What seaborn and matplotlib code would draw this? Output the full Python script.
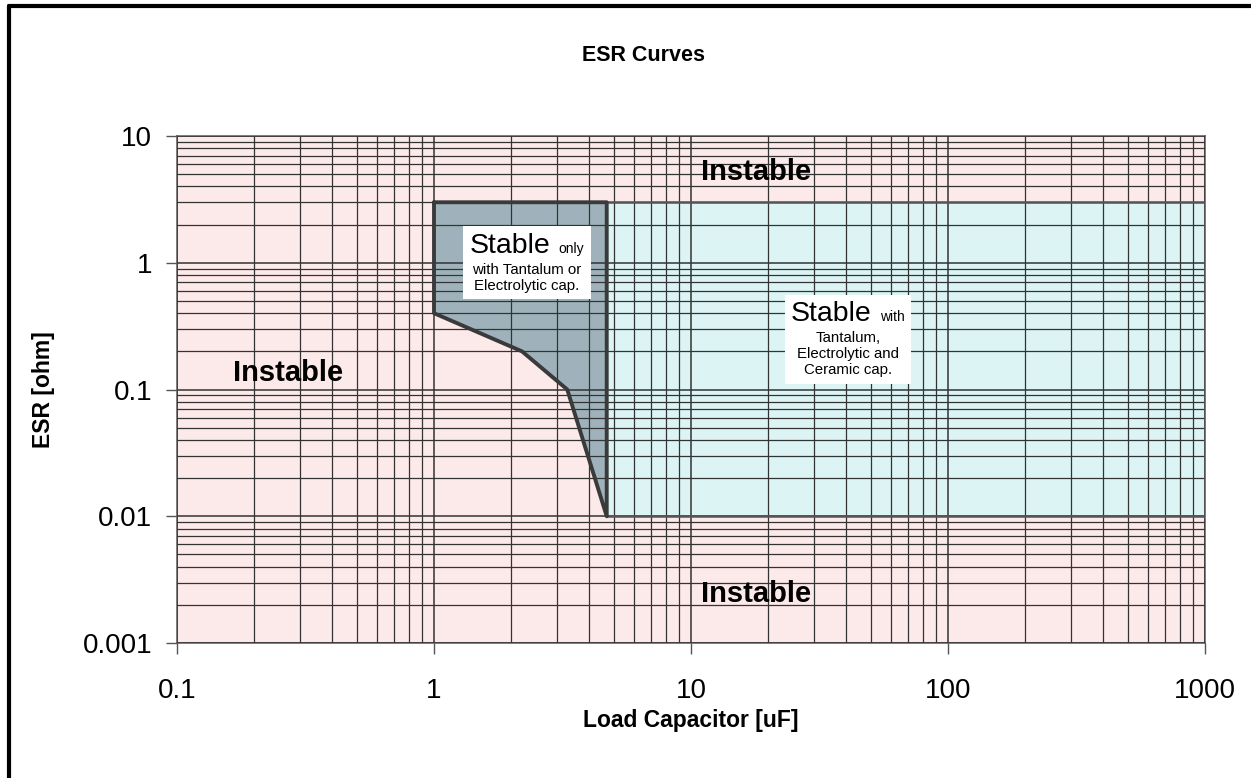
import numpy as np
import seaborn as sns
import matplotlib
matplotlib.use("Agg")
import matplotlib.pyplot as plt
from matplotlib.lines import Line2D
from matplotlib.offsetbox import TextArea, HPacker, VPacker, AnnotationBbox

# -------------------------
# Data
# -------------------------
# lower boundary of the "tantalum / electrolytic only" region
tant_cap = [1, 1, 2.2, 3.3, 4.7]
tant_esr_low = [3, 0.4, 0.2, 0.1, 0.01]
# region stable with every capacitor type
all_cap = [4.7, 1000]
esr_min = 0.01
esr_max = 3

x_ticks = [0.1, 1, 10, 100, 1000]
x_labels = ["0.1", "1", "10", "100", "1000"]
y_ticks = [0.001, 0.01, 0.1, 1, 10]
y_labels = ["0.001", "0.01", "0.1", "1", "10"]

sns.set_style("white")
plt.rcParams["font.family"] = ["Liberation Sans", "DejaVu Sans"]
plt.rcParams["text.color"] = "black"
plt.rcParams["axes.labelcolor"] = "black"
plt.rcParams["xtick.color"] = "black"
plt.rcParams["ytick.color"] = "black"

fig, ax = plt.subplots(figsize=(12.51, 7.78), dpi=100)
fig.subplots_adjust(left=0.1415, right=0.9632, top=0.8252, bottom=0.1735)

ax.set_facecolor("#fce9e9")
ax.set_xscale("log")
ax.set_yscale("log")
ax.set_xlim(0.1, 1000)
ax.set_ylim(0.001, 10)

# Regions
ax.fill_between(all_cap, esr_min, esr_max, color="#dcf4f4", zorder=1)
ax.fill_between(tant_cap, tant_esr_low, esr_max, color="#9fb2bb", zorder=1.1)

# Outlines
sns.lineplot(x=[all_cap[0], all_cap[1], all_cap[1], all_cap[0]],
             y=[esr_max, esr_max, esr_min, esr_min], sort=False,
             estimator=None, errorbar=None,
             color="#555555", lw=1.8, ax=ax, zorder=3)
outline_x = tant_cap + [tant_cap[-1], tant_cap[0]]
outline_y = tant_esr_low + [esr_max, esr_max]
sns.lineplot(x=outline_x, y=outline_y, sort=False, estimator=None,
             errorbar=None, color="#3a3a3a", lw=2.8, ax=ax, zorder=3.1)

# Grid
ax.set_axisbelow(False)
ax.grid(True, which="major", color="#333333", lw=1.1, zorder=2)
ax.grid(True, which="minor", color="#333333", lw=0.9, zorder=2)

ax.set_xticks(x_ticks, x_labels)
ax.set_yticks(y_ticks, y_labels)
ax.tick_params(axis="both", which="major", direction="out", length=8,
               width=1, color="#555555", labelsize=20, pad=10, bottom=True, left=True)
ax.tick_params(axis="x", pad=17)
ax.tick_params(which="minor", length=0)
for s in ax.spines.values():
    s.set_color("#666666")
    s.set_linewidth(1.2)

ax.set_xlabel("Load Capacitor [uF]", fontsize=16.5, fontweight="bold", labelpad=4)
ax.set_ylabel("ESR [ohm]", fontsize=16.5, fontweight="bold", labelpad=20)
fig.text(0.514, 0.929, "ESR Curves", fontsize=15.5, fontweight="bold",
         ha="center", va="center")

# Region labels
for lx, ly in [(17.9, 5.2), (0.27, 0.134), (17.9, 0.00243)]:
    ax.text(lx, ly, "Instable", fontsize=21, fontweight="bold",
            ha="center", va="center", zorder=5)


def stable_box(small_word, body, xy):
    head = HPacker(children=[TextArea("Stable", textprops=dict(fontsize=20.5)),
                             TextArea(small_word, textprops=dict(fontsize=10))],
                   align="baseline", pad=0, sep=6)
    lines = TextArea(body, textprops=dict(fontsize=10.8, ha="center",
                                          multialignment="center",
                                          linespacing=1.2))
    pack = VPacker(children=[head, lines], align="center", pad=0, sep=3)
    ab = AnnotationBbox(pack, xy, xycoords="data", frameon=True, pad=0.45,
                        box_alignment=(0.5, 0.5),
                        bboxprops=dict(facecolor="white", edgecolor="none"))
    ab.set_zorder(6)
    ax.add_artist(ab)


stable_box("only", "with Tantalum or\nElectrolytic cap.", (2.3, 1.0))
stable_box("with", "Tantalum,\nElectrolytic and\nCeramic cap.", (40.8, 0.25))

# Outer frame (left and top edges)
fig.add_artist(Line2D([0.0072, 0.0072], [0.0, 0.9925], transform=fig.transFigure,
                      color="black", lw=3))
fig.add_artist(Line2D([0.0072, 1.0], [0.9925, 0.9925], transform=fig.transFigure,
                      color="black", lw=3))

fig.savefig("out.png", dpi=100)
